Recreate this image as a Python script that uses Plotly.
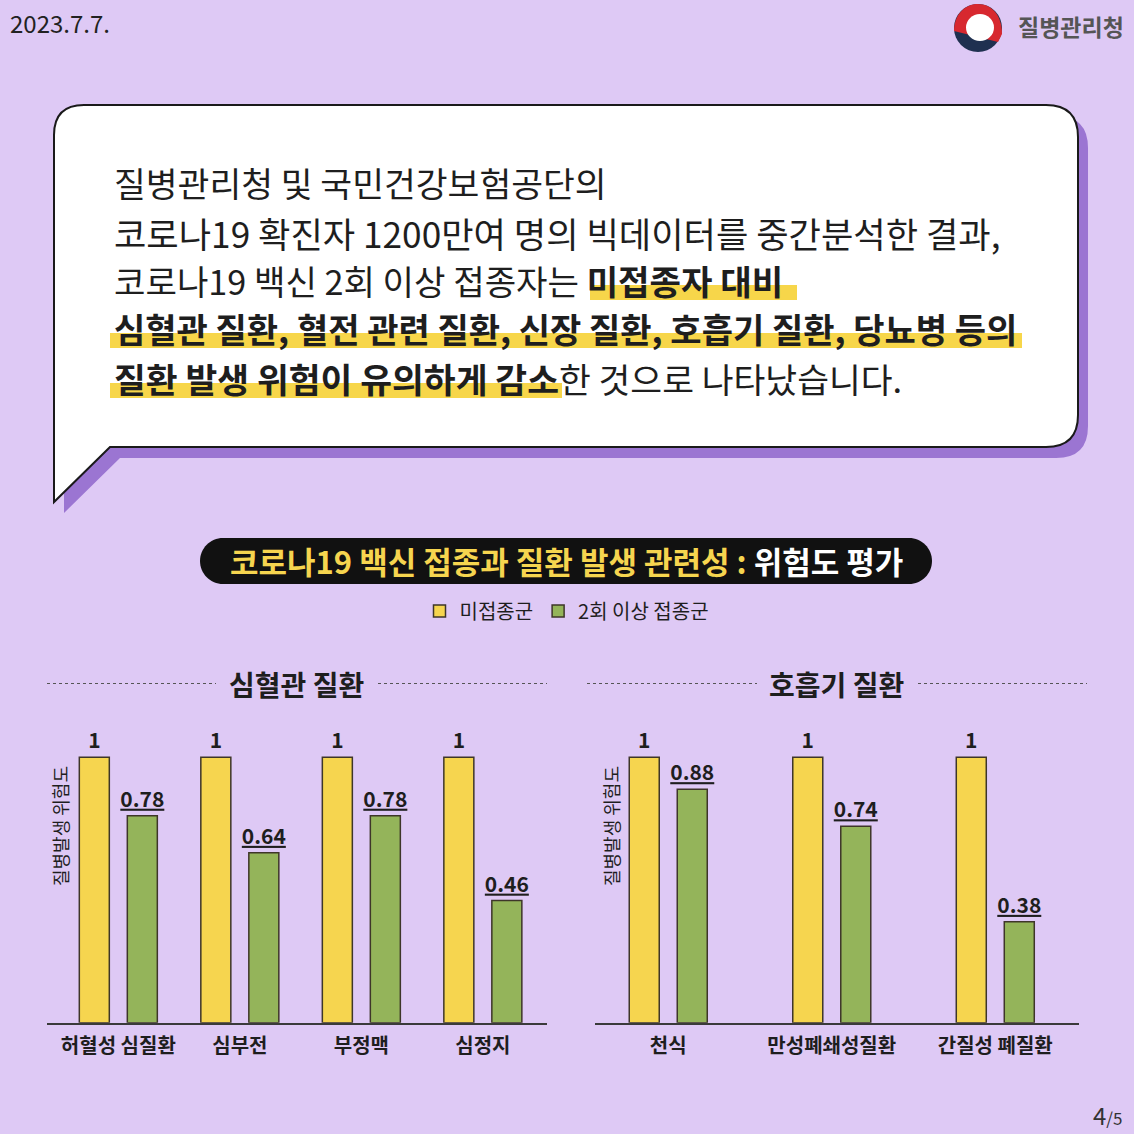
import plotly.graph_objects as go

W = H = 1134
BG = "#DEC9F5"
YELLOW = "#F6D54F"
GREEN = "#94B45A"
OUTLINE = "#3E3629"
INK = "#1E1E1E"
HILITE = "#F7D64A"
FONT = "Noto Sans CJK KR"

# ---------------- data ----------------
cardio_categories = ["허혈성 심질환", "심부전", "부정맥", "심정지"]
cardio_unvaccinated = [1, 1, 1, 1]
cardio_vaccinated = [0.78, 0.64, 0.78, 0.46]

resp_categories = ["천식", "만성폐쇄성질환", "간질성 폐질환"]
resp_unvaccinated = [1, 1, 1]
resp_vaccinated = [0.88, 0.74, 0.38]

series_names = ["미접종군", "2회 이상 접종군"]
panel_titles = ["심혈관 질환", "호흡기 질환"]
y_title = "질병발생 위험도"
chart_title_yellow = "코로나19 백신 접종과 질환 발생 관련성 : "
chart_title_white = "위험도 평가"
body_lines = [
    "질병관리청 및 국민건강보험공단의",
    "코로나19 확진자 1200만여 명의 빅데이터를 중간분석한 결과,",
    "코로나19 백신 2회 이상 접종자는 <b>미접종자 대비</b>",
    "<b>심혈관 질환, 혈전 관련 질환, 신장 질환, 호흡기 질환, 당뇨병 등의</b>",
    "<b>질환 발생 위험이 유의하게 감소</b>한 것으로 나타났습니다.",
]
body_sizes = [34.6, 35.2, 34.2, 34, 34.6]
date_text = "2023.7.7."
org_text = "질병관리청"
page_text = "4<span style='font-size:17px'>/5</span>"


def px(x):
    return x / W


def py(y):
    return 1 - y / H


def P(x, y):
    return f"{px(x):.5f},{py(y):.5f}"


fig = go.Figure()


def add_panel(cats, v0, v1, xa, ya, unit, showlegend):
    bw = 30 / unit
    fig.add_trace(go.Bar(
        x=cats, y=v0, name=series_names[0], legendgroup="a", showlegend=showlegend,
        marker=dict(color=YELLOW, line=dict(color=OUTLINE, width=1.5)),
        width=bw, offset=-39 / unit,
        texttemplate="<b>%{y}</b>", textposition="outside", constraintext="none",
        cliponaxis=False, textfont=dict(family=FONT, size=21, color=INK),
        xaxis=xa, yaxis=ya, hoverinfo="skip"))
    fig.add_trace(go.Bar(
        x=cats, y=v1, name=series_names[1], legendgroup="b", showlegend=showlegend,
        marker=dict(color=GREEN, line=dict(color=OUTLINE, width=1.5)),
        width=bw, offset=9 / unit,
        texttemplate="<b><u>%{y}</u></b>", textposition="outside", constraintext="none",
        cliponaxis=False, textfont=dict(family=FONT, size=21, color=INK),
        xaxis=xa, yaxis=ya, hoverinfo="skip"))


add_panel(cardio_categories, cardio_unvaccinated, cardio_vaccinated, "x", "y", 121.5, True)
add_panel(resp_categories, resp_unvaccinated, resp_vaccinated, "x2", "y2", 163.5, False)

ydom = [py(1022.7), py(1022.7 - 1.2 * 265.4)]
xcommon = dict(type="category", showline=True, linecolor="#3a3a3a", linewidth=1.5,
               ticks="outside", ticklen=5, tickcolor="rgba(0,0,0,0)", showgrid=False,
               zeroline=False, fixedrange=True,
               tickfont=dict(family=FONT, size=20, color=INK, weight="bold"))
fig.update_layout(
    xaxis=dict(domain=[px(47), px(547)], range=[-0.587, 3.528], anchor="y", **xcommon),
    yaxis=dict(domain=ydom, range=[0, 1.2], visible=False, anchor="x", fixedrange=True),
    xaxis2=dict(domain=[px(595), px(1079)], range=[-0.448, 2.512], anchor="y2", **xcommon),
    yaxis2=dict(domain=ydom, range=[0, 1.2], visible=False, anchor="x2", fixedrange=True),
)

shapes = []


def bubble(dx, dy):
    def Q(x, y):
        return P(x + dx, y + dy)
    return (f"M{Q(54,135)} Q{Q(54,105)} {Q(84,105)} L{Q(1046,105)} Q{Q(1078,105)} {Q(1078,137)} "
            f"L{Q(1078,415)} Q{Q(1078,447)} {Q(1046,447)} L{Q(110,447)} L{Q(54,502)} Z")


shapes.append(dict(type="path", path=bubble(10, 11), xref="paper", yref="paper",
                   fillcolor="#9B75D2", line=dict(width=0)))
shapes.append(dict(type="path", path=bubble(0, 0), xref="paper", yref="paper",
                   fillcolor="#FFFFFF", line=dict(color="#1a1a1a", width=2)))

# highlight bars under bold text
for x0, x1, yc in [(590, 797, 280), (110, 1022, 328), (110, 562, 378)]:
    shapes.append(dict(type="rect", xref="paper", yref="paper",
                       x0=px(x0), x1=px(x1), y0=py(yc + 20), y1=py(yc + 5),
                       fillcolor=HILITE, line=dict(width=0), layer="above"))

# title pill
r = 23
x0p, x1p, y0p, y1p = 200, 932, 538, 584
k = 0.5523 * r
pill = (f"M{P(x0p+r,y0p)} L{P(x1p-r,y0p)} C{P(x1p-r+k,y0p)} {P(x1p,y0p+r-k)} {P(x1p,y0p+r)} "
        f"C{P(x1p,y0p+r+k)} {P(x1p-r+k,y1p)} {P(x1p-r,y1p)} L{P(x0p+r,y1p)} "
        f"C{P(x0p+r-k,y1p)} {P(x0p,y0p+r+k)} {P(x0p,y0p+r)} C{P(x0p,y0p+r-k)} {P(x0p+r-k,y0p)} {P(x0p+r,y0p)} Z")
shapes.append(dict(type="path", path=pill, xref="paper", yref="paper",
                   fillcolor="#111111", line=dict(width=0)))

# dotted rules beside panel titles
for a, b in [(47, 216), (378, 547), (587, 757), (918, 1087)]:
    shapes.append(dict(type="line", xref="paper", yref="paper", x0=px(a), x1=px(b),
                       y0=py(683.5), y1=py(683.5), line=dict(color="#555555", width=1.2, dash="dot")))

# logo
cx, cy, R = 978, 28, 24
shapes.append(dict(type="circle", xref="paper", yref="paper", x0=px(cx-R), x1=px(cx+R),
                   y0=py(cy+R), y1=py(cy-R), fillcolor="#1F3050", line=dict(width=0)))
kk = 0.5523 * R
red = (f"M{P(cx-R,cy+3)} C{P(cx-R,cy-kk)} {P(cx-kk,cy-R)} {P(cx,cy-R)} "
       f"C{P(cx+kk,cy-R)} {P(cx+R,cy-kk)} {P(cx+R,cy+6)} L{P(cx+R-4,cy+14)} Z")
shapes.append(dict(type="path", path=red, xref="paper", yref="paper",
                   fillcolor="#D7282F", line=dict(width=0)))
shapes.append(dict(type="circle", xref="paper", yref="paper", x0=px(cx-12), x1=px(cx+16),
                   y0=py(cy+13), y1=py(cy-14), fillcolor="#FFFFFF", line=dict(width=0)))

fig.update_layout(shapes=shapes)

ann = []
for i, line in enumerate(body_lines):
    yc = [182, 232, 280, 328, 378][i]
    ann.append(dict(text=line, x=px(112), y=py(yc), xref="paper", yref="paper",
                    xanchor="left", yanchor="middle", showarrow=False,
                    font=dict(family=FONT, size=body_sizes[i], color=INK)))

ann.append(dict(text=f"<b><span style='color:#F6D54F'>{chart_title_yellow}</span>{chart_title_white}</b>",
                x=px(566), y=py(561), xref="paper", yref="paper", showarrow=False,
                xanchor="center", yanchor="middle",
                font=dict(family=FONT, size=31, color="#FFFFFF")))

for t, xc in zip(panel_titles, [296, 836]):
    ann.append(dict(text=f"<b>{t}</b>", x=px(xc), y=py(684), xref="paper", yref="paper",
                    showarrow=False, xanchor="center", yanchor="middle",
                    font=dict(family=FONT, size=28, color=INK)))

for xc in [60, 611]:
    ann.append(dict(text=y_title, x=px(xc), y=py(826), xref="paper", yref="paper",
                    showarrow=False, textangle=-90, xanchor="center", yanchor="middle",
                    font=dict(family=FONT, size=18, color=INK)))

ann.append(dict(text=date_text, x=px(8), y=py(22), xref="paper", yref="paper",
                showarrow=False, xanchor="left", yanchor="middle",
                font=dict(family=FONT, size=24, color="#222222")))
ann.append(dict(text=org_text, x=px(1126), y=py(26), xref="paper", yref="paper",
                showarrow=False, xanchor="right", yanchor="middle",
                font=dict(family=FONT, size=23, color="#555555", weight="bold")))
ann.append(dict(text=page_text, x=px(1124), y=py(1114), xref="paper", yref="paper",
                showarrow=False, xanchor="right", yanchor="middle",
                font=dict(family=FONT, size=24, color="#333333")))

fig.update_layout(
    annotations=ann,
    width=W, height=H, margin=dict(l=0, r=0, t=0, b=0),
    paper_bgcolor=BG, plot_bgcolor=BG,
    barmode="group",
    font=dict(family=FONT, color=INK),
    showlegend=True,
    legend=dict(orientation="h", x=0.5, xanchor="center", y=py(611), yanchor="middle",
                font=dict(family=FONT, size=20, color=INK), bgcolor="rgba(0,0,0,0)",
                itemwidth=30, traceorder="normal"),
)

fig.write_html("out.html", config={"displayModeBar": False},
               post_script="document.body.style.margin='0px';document.body.style.overflow='hidden';")
